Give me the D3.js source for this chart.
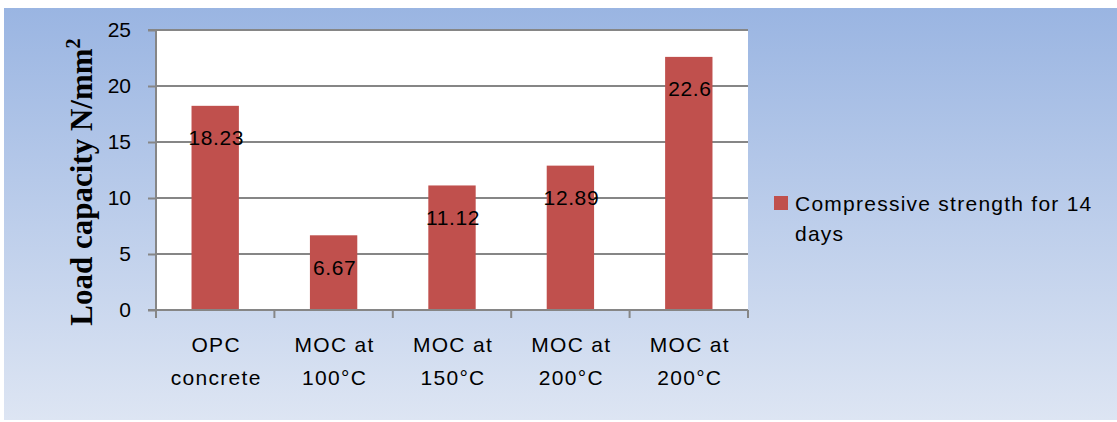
<!DOCTYPE html>
<html>
<head>
<meta charset="utf-8">
<script src="https://cdn.jsdelivr.net/npm/d3@7"></script>
<style>
  html, body { margin: 0; padding: 0; background: #ffffff; }
  svg { display: block; }
</style>
</head>
<body>
<div id="chart"></div>
<script>
// Chart data
const categories = [["OPC", "concrete"], ["MOC at", "100°C"], ["MOC at", "150°C"], ["MOC at", "200°C"], ["MOC at", "200°C"]];
const values = [18.23, 6.67, 11.12, 12.89, 22.6];
const valueLabels = ["18.23", "6.67", "11.12", "12.89", "22.6"];
const yTicks = [0, 5, 10, 15, 20, 25];
const seriesName = ["Compressive strength for 14", "days"];

const W = 1117, H = 422;
const plot = { left: 156, right: 748, top: 30, bottom: 310 };
const sans = "'Liberation Sans', Arial, Helvetica, sans-serif";
const barColor = "#C0504D";
const gridColor = "#868686";

const svg = d3.select("#chart").append("svg")
  .attr("width", W).attr("height", H);

// Background panel with vertical gradient
const defs = svg.append("defs");
const grad = defs.append("linearGradient")
  .attr("id", "bg").attr("x1", 0).attr("y1", 0).attr("x2", 0).attr("y2", 1);
grad.append("stop").attr("offset", "0%").attr("stop-color", "#9AB5E2");
grad.append("stop").attr("offset", "100%").attr("stop-color", "#DDE5F3");

svg.append("rect")
  .attr("x", 4).attr("y", 8).attr("width", W - 4).attr("height", 412)
  .attr("fill", "url(#bg)");

// Plot area
svg.append("rect")
  .attr("x", plot.left).attr("y", plot.top)
  .attr("width", plot.right - plot.left).attr("height", plot.bottom - plot.top)
  .attr("fill", "#ffffff");

const x = d3.scaleBand()
  .domain(d3.range(categories.length))
  .range([plot.left, plot.right])
  .paddingInner(0.6).paddingOuter(0.3);

const y = d3.scaleLinear().domain([0, 25]).range([plot.bottom, plot.top]);

// Horizontal gridlines
svg.append("g").selectAll("line")
  .data(yTicks.filter(d => d > 0))
  .join("line")
  .attr("x1", plot.left).attr("x2", plot.right)
  .attr("y1", d => y(d)).attr("y2", d => y(d))
  .attr("stroke", gridColor).attr("stroke-width", 2);

// Bars
svg.append("g").selectAll("rect")
  .data(values)
  .join("rect")
  .attr("x", (d, i) => x(i))
  .attr("y", d => y(d))
  .attr("width", x.bandwidth())
  .attr("height", d => y(0) - y(d))
  .attr("fill", barColor);

// Value labels
svg.append("g").selectAll("text")
  .data(values)
  .join("text")
  .attr("x", (d, i) => x(i) + x.bandwidth() / 2 + 1)
  .attr("y", d => y(d) + 32)
  .attr("dy", "0.35em")
  .attr("text-anchor", "middle")
  .attr("font-family", sans).attr("font-size", 21)
  .attr("letter-spacing", 0.6)
  .attr("fill", "#000")
  .text((d, i) => valueLabels[i]);

// Y axis
const yAxis = d3.axisLeft(y).tickValues(yTicks).tickSize(8).tickPadding(17);
const gy = svg.append("g").attr("transform", `translate(${plot.left},0)`).call(yAxis);
gy.select(".domain").attr("stroke", gridColor).attr("stroke-width", 2)
  .attr("d", `M-8,${plot.top}H0V${plot.bottom}`);
gy.selectAll(".tick line").attr("stroke", gridColor).attr("stroke-width", 2);
gy.selectAll(".tick text").attr("font-family", sans).attr("font-size", 21).attr("fill", "#000");

// X axis baseline with category separator ticks
const sepX = d3.range(categories.length + 1).map(i => plot.left + i * x.step());
svg.append("line")
  .attr("x1", plot.left - 8).attr("x2", plot.right)
  .attr("y1", plot.bottom).attr("y2", plot.bottom)
  .attr("stroke", gridColor).attr("stroke-width", 2);
svg.append("g").selectAll("line")
  .data(sepX)
  .join("line")
  .attr("x1", d => d).attr("x2", d => d)
  .attr("y1", plot.bottom).attr("y2", plot.bottom + 8)
  .attr("stroke", gridColor).attr("stroke-width", 2);

// Category labels (two lines)
const cat = svg.append("g").selectAll("text")
  .data(categories)
  .join("text")
  .attr("text-anchor", "middle")
  .attr("font-family", sans).attr("font-size", 21)
  .attr("letter-spacing", 1.3)
  .attr("fill", "#000");
cat.each(function(d, i) {
  const cx = x(i) + x.bandwidth() / 2 + 1;
  const t = d3.select(this);
  t.append("tspan").attr("x", cx).attr("y", 352).text(d[0]);
  t.append("tspan").attr("x", cx).attr("y", 385).text(d[1]);
});

// Y axis title
const yt = svg.append("text")
  .attr("transform", `translate(92,182) rotate(-90)`)
  .attr("text-anchor", "middle")
  .attr("font-family", "'Liberation Serif', 'Times New Roman', serif")
  .attr("font-weight", "bold").attr("font-size", 31)
  .attr("fill", "#000");
yt.append("tspan").text("Load capacity N/mm");
yt.append("tspan").attr("font-size", 20).attr("dy", -12).text("2");

// Legend
const lg = svg.append("g");
lg.append("rect").attr("x", 774).attr("y", 196).attr("width", 14).attr("height", 14).attr("fill", barColor);
lg.selectAll("text")
  .data(seriesName)
  .join("text")
  .attr("x", 795)
  .attr("y", (d, i) => 210.5 + i * 30.5)
  .attr("font-family", sans).attr("font-size", 21)
  .attr("letter-spacing", 1.25)
  .attr("fill", "#000")
  .text(d => d);
</script>
</body>
</html>
